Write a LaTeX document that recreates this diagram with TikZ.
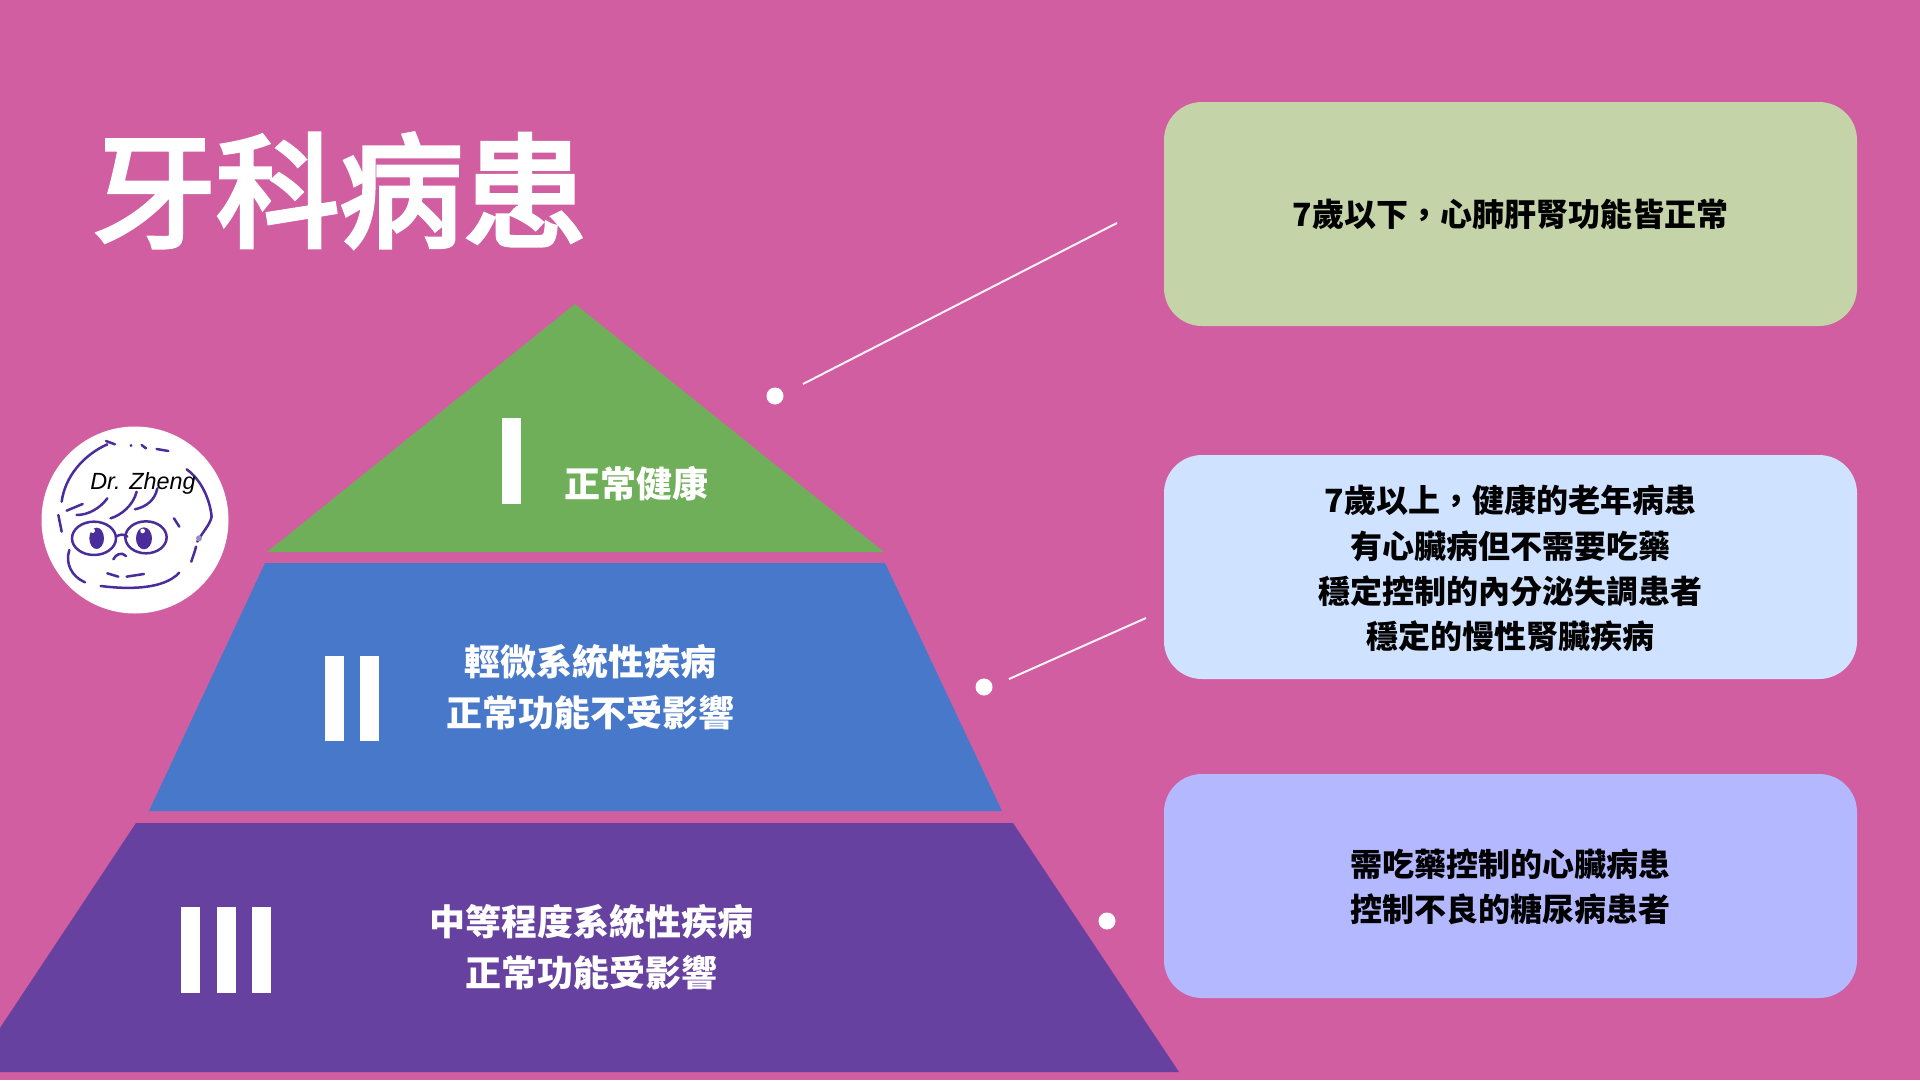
\documentclass[tikz,border=0pt]{standalone}
\usepackage{fontspec}
\setmainfont{Noto Sans CJK TC}
\newfontfamily\titlefont[FakeBold=3.6]{Noto Sans CJK TC}
\newfontfamily\latinit{Liberation Sans}
\definecolor{bgpink}{HTML}{D15EA0}
\definecolor{tiergreen}{HTML}{70AF5A}
\definecolor{tierblue}{HTML}{4878CA}
\definecolor{tierpurple}{HTML}{6641A0}
\definecolor{boxgreen}{HTML}{C4D4A8}
\definecolor{boxblue}{HTML}{CFE2FF}
\definecolor{boxviolet}{HTML}{B4B8FF}
\definecolor{sketchink}{HTML}{4A2C9A}
\tikzset{
  tierlabel/.style={white,align=center,inner sep=0pt,font=\fontsize{36}{51}\selectfont\bfseries},
  infobox/.style={rounded corners=38pt,minimum width=693pt,minimum height=224pt,inner sep=0pt},
  boxtext/.style={align=center,inner sep=0pt,text=black,font=\fontsize{32}{45.4}\selectfont\bfseries},
  sketchline/.style={sketchink,line width=2.5pt,line cap=round},
  leader/.style={white!92!bgpink,line width=2pt}
}
\begin{document}
\begin{tikzpicture}[x=1pt,y=-1pt]
\useasboundingbox (0,0) rectangle (1920,1080);
\fill[bgpink] (0,0) rectangle (1920,1080);
\node[white,inner sep=0pt,anchor=center,font=\fontsize{123.5}{123.5}\titlefont] (title) at (339.5,190.5) {牙科病患};
\fill[tiergreen] (575,304) -- (884,552) -- (267,552) -- cycle;
\fill[tierblue] (265,563) -- (885,563) -- (1002,811) -- (149,811) -- cycle;
\fill[tierpurple] (136,823) -- (1013,823) -- (1179,1072) -- (0,1072) -- (0,1028) -- cycle;
\fill[white] (502,418) rectangle ++(19,86);
\foreach \barx in {325,360}{\fill[white] (\barx,656) rectangle ++(19,85);}
\foreach \barx in {181,217,252}{\fill[white] (\barx,907) rectangle ++(19,86);}
\node[tierlabel] (labelone) at (636,484) {正常健康};
\node[tierlabel] (labeltwo) at (590,687.5) {輕微系統性疾病\\正常功能不受影響};
\node[tierlabel] (labelthree) at (591,947) {中等程度系統性疾病\\正常功能受影響};
\node[infobox,fill=boxgreen] (boxone) at (1510.5,214) {};
\node[infobox,fill=boxblue] (boxtwo) at (1510.5,567) {};
\node[infobox,fill=boxviolet] (boxthree) at (1510.5,886) {};
\node[boxtext] (textone) at (1510.5,214) {7歲以下，心肺肝腎功能皆正常};
\node[boxtext] (texttwo) at (1510.5,568.5) {7歲以上，健康的老年病患\\有心臟病但不需要吃藥\\穩定控制的內分泌失調患者\\穩定的慢性腎臟疾病};
\node[boxtext] (textthree) at (1510.5,887) {需吃藥控制的心臟病患\\控制不良的糖尿病患者};
\fill[white] (775,396) circle (8.5);
\fill[white] (984,687) circle (8.5);
\fill[white] (1107,921) circle (8.5);
\coordinate (leadonestart) at (803,384);
\coordinate (leadoneend) at (1117,223);
\coordinate (leadtwostart) at (1009,679);
\coordinate (leadtwoend) at (1146,618);
\draw[leader] (leadonestart) -- (leadoneend);
\draw[leader] (leadtwostart) -- (leadtwoend);
\fill[white] (135,520) circle (93.5);
\begin{scope}[shift={(20,400)},x=0.3333pt,y=-0.3333pt]
\draw[sketchline] (125,305) .. controls (135,230) and (190,165) .. (262,133);
\draw[sketchline] (258,123) -- (285,133);
\draw[sketchline] (332,136) -- (334,137);
\draw[sketchline] (365,135) -- (378,145);
\draw[sketchline] (410,147) -- (445,153);
\draw[sketchline] (500,208) .. controls (545,240) and (570,300) .. (575,350);
\draw[sketchline] (575,350) .. controls (570,375) and (545,400) .. (532,425);
\draw[sketchline] (528,440) .. controls (525,455) and (520,465) .. (514,485);
\fill[sketchink!55] (537,415) circle (9);
\draw[sketchline] (140,332) -- (188,312);
\draw[sketchline] (170,345) .. controls (205,345) and (240,325) .. (262,295);
\draw[sketchline] (272,355) .. controls (305,345) and (340,315) .. (350,275);
\draw[sketchline] (345,328) .. controls (380,320) and (405,300) .. (412,265);
\draw[sketchline] (115,345) -- (125,395);
\draw[sketchline] (462,355) -- (478,380);
\draw[sketchline] (222,415) ellipse (66 and 50);
\draw[sketchline] (378,412) ellipse (62 and 48);
\draw[sketchline] (288,410) .. controls (300,402) and (312,402) .. (322,410);
\fill[sketchink] (230,415) ellipse (22 and 32);
\fill[sketchink] (372,415) ellipse (24 and 33);
\fill[white] (218,392) circle (7);
\fill[white] (368,393) circle (7);
\draw[sketchline] (280,478) .. controls (288,462) and (305,455) .. (318,468);
\draw[sketchline] (148,450) .. controls (135,490) and (155,530) .. (195,547);
\draw[sketchline] (262,520) -- (295,530);
\draw[sketchline] (320,530) -- (372,522);
\draw[sketchline] (242,558) .. controls (320,568) and (430,570) .. (478,518);
\end{scope}
\node[text=black,inner sep=0pt,font=\fontsize{23.4}{28}\latinit\itshape] (drname) at (143,483) {Dr. Zheng};
\end{tikzpicture}
\end{document}
